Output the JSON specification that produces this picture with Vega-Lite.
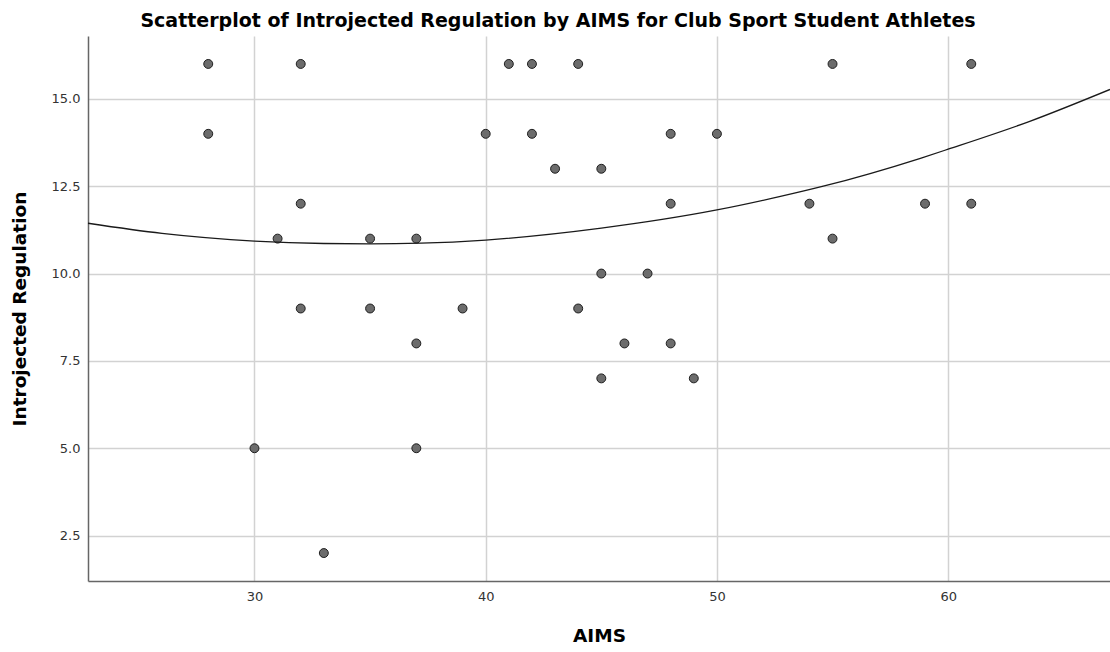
{
  "$schema": "https://vega.github.io/schema/vega-lite/v6.json",
  "autosize": "none",
  "width": 1022,
  "height": 545,
  "padding": {"left": 88, "top": 36, "right": 0, "bottom": 71},
  "background": "white",
  "config": {
    "view": {"stroke": null},
    "font": "DejaVu Sans",
    "axis": {
      "domainColor": "#666666",
      "domainWidth": 1.5,
      "gridColor": "#d2d2d2",
      "gridWidth": 1.5,
      "ticks": false,
      "labelFont": "DejaVu Sans",
      "labelFontSize": 13,
      "labelColor": "#333333",
      "titleFont": "DejaVu Sans",
      "titleFontSize": 18.5,
      "titleFontWeight": "bold",
      "titleColor": "#000000"
    }
  },
  "title": {
    "text": "Scatterplot of Introjected Regulation by AIMS for Club Sport Student Athletes",
    "font": "DejaVu Sans",
    "fontSize": 19,
    "fontWeight": "bold",
    "color": "#000000",
    "anchor": "middle",
    "baseline": "alphabetic",
    "offset": 9,
    "dx": -41,
    "dy": 19
  },
  "datasets": {
    "points": [
      {"AIMS": 28, "IR": 16}, {"AIMS": 28, "IR": 14},
      {"AIMS": 30, "IR": 5},
      {"AIMS": 31, "IR": 11},
      {"AIMS": 32, "IR": 16}, {"AIMS": 32, "IR": 12}, {"AIMS": 32, "IR": 9},
      {"AIMS": 33, "IR": 2},
      {"AIMS": 35, "IR": 11}, {"AIMS": 35, "IR": 9},
      {"AIMS": 37, "IR": 11}, {"AIMS": 37, "IR": 8}, {"AIMS": 37, "IR": 5},
      {"AIMS": 39, "IR": 9},
      {"AIMS": 40, "IR": 14},
      {"AIMS": 41, "IR": 16},
      {"AIMS": 42, "IR": 16}, {"AIMS": 42, "IR": 14},
      {"AIMS": 43, "IR": 13},
      {"AIMS": 44, "IR": 16}, {"AIMS": 44, "IR": 9},
      {"AIMS": 45, "IR": 13}, {"AIMS": 45, "IR": 10}, {"AIMS": 45, "IR": 7},
      {"AIMS": 46, "IR": 8},
      {"AIMS": 47, "IR": 10},
      {"AIMS": 48, "IR": 14}, {"AIMS": 48, "IR": 12}, {"AIMS": 48, "IR": 8},
      {"AIMS": 49, "IR": 7},
      {"AIMS": 50, "IR": 14},
      {"AIMS": 54, "IR": 12},
      {"AIMS": 55, "IR": 16}, {"AIMS": 55, "IR": 11},
      {"AIMS": 59, "IR": 12},
      {"AIMS": 61, "IR": 16}, {"AIMS": 61, "IR": 12}
    ],
    "fit": [
      {"AIMS": 22.8, "IR": 11.44},
      {"AIMS": 26, "IR": 11.15},
      {"AIMS": 30, "IR": 10.93},
      {"AIMS": 33, "IR": 10.86},
      {"AIMS": 35, "IR": 10.85},
      {"AIMS": 37.2, "IR": 10.87},
      {"AIMS": 40, "IR": 10.96},
      {"AIMS": 45, "IR": 11.3},
      {"AIMS": 50, "IR": 11.82},
      {"AIMS": 52.7, "IR": 12.2},
      {"AIMS": 54.6, "IR": 12.5},
      {"AIMS": 58.8, "IR": 13.3},
      {"AIMS": 60, "IR": 13.56},
      {"AIMS": 63.5, "IR": 14.35},
      {"AIMS": 67, "IR": 15.27}
    ]
  },
  "encoding": {
    "x": {
      "field": "AIMS", "type": "quantitative",
      "scale": {"domain": [22.8, 67], "nice": false, "zero": false},
      "axis": {"title": "AIMS", "values": [30, 40, 50, 60], "labelPadding": 9, "titleY": 60, "titleBaseline": "alphabetic"}
    },
    "y": {
      "field": "IR", "type": "quantitative",
      "scale": {"domain": [1.2, 16.8], "nice": false, "zero": false},
      "axis": {"title": "Introjected Regulation", "values": [2.5, 5, 7.5, 10, 12.5, 15], "format": ".1f", "labelPadding": 8, "titleX": -63, "titleBaseline": "alphabetic"}
    }
  },
  "layer": [
    {
      "data": {"name": "points"},
      "mark": {"type": "point", "filled": true, "fill": "#6c6c6c", "stroke": "#1e1e1e", "strokeWidth": 1, "size": 80, "opacity": 1}
    },
    {
      "data": {"name": "fit"},
      "mark": {"type": "line", "color": "#1a1a1a", "strokeWidth": 1.3, "interpolate": "monotone"}
    }
  ]
}
